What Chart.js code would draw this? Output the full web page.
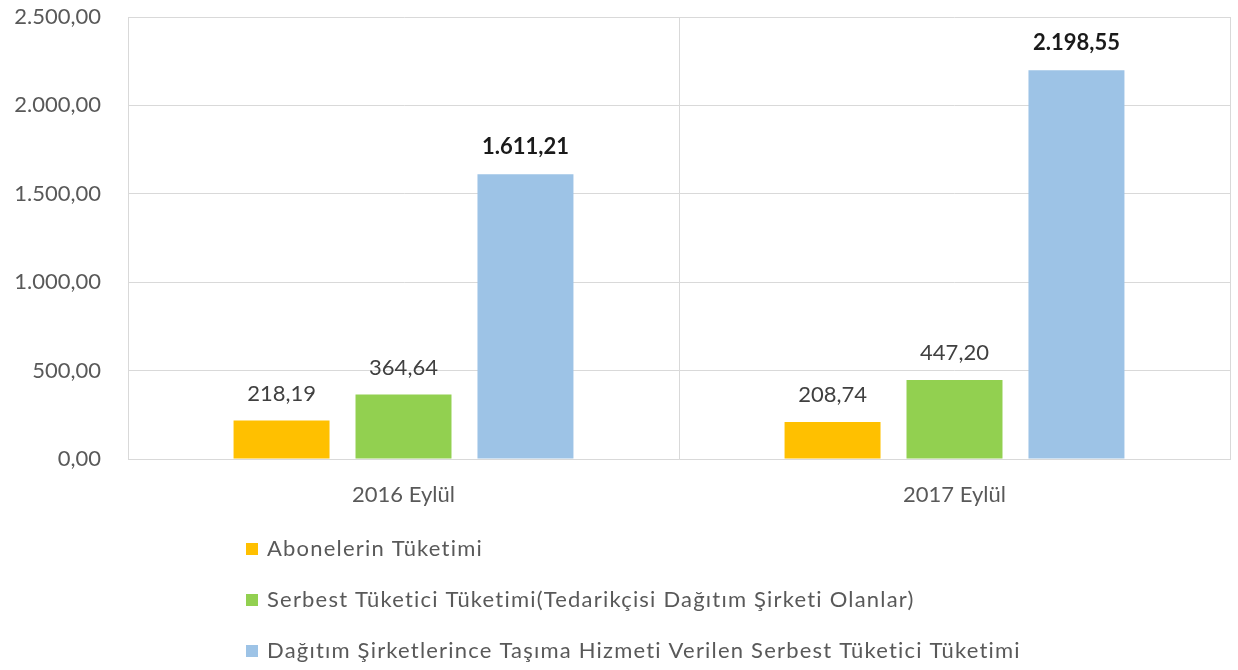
<!DOCTYPE html>
<html>
<head>
<meta charset="utf-8">
<script src="https://cdn.jsdelivr.net/npm/chart.js@4"></script>
<style>
  html, body { margin: 0; padding: 0; background: #fff; }
  .chart-wrap { width: 1238px; height: 670px; position: relative; }
</style>
</head>
<body>
<div class="chart-wrap"><canvas id="chart"></canvas></div>
<script>
const categories = ['2016 Eylül', '2017 Eylül'];
const aboneler = [218.19, 208.74];
const serbestTedarik = [364.64, 447.2];
const dagitimTasima = [1611.21, 2198.55];
const seriesNames = [
  'Abonelerin Tüketimi',
  'Serbest Tüketici Tüketimi(Tedarikçisi Dağıtım Şirketi Olanlar)',
  'Dağıtım Şirketlerince Taşıma Hizmeti Verilen Serbest Tüketici Tüketimi',
];
const yTicks = [0, 500, 1000, 1500, 2000, 2500];

const FONT = 'Lato, "Open Sans", sans-serif';

// 1234.5 -> "1.234,50"
const fmt = (v) => {
  const [whole, dec] = v.toFixed(2).split('.');
  return whole.replace(/\B(?=(\d{3})+(?!\d))/g, '.') + ',' + dec;
};

const valueLabels = {
  id: 'valueLabels',
  afterDatasetsDraw(chart) {
    const { ctx } = chart;
    ctx.save();
    ctx.textAlign = 'center';
    ctx.textBaseline = 'middle';
    chart.data.datasets.forEach((ds, i) => {
      const bold = i === 2;
      ctx.font = (bold ? 'bold ' : '') + '22px ' + FONT;
      ctx.fillStyle = bold ? '#1a1a1a' : '#404040';
      chart.getDatasetMeta(i).data.forEach((bar, j) => {
        ctx.fillText(fmt(ds.data[j]), bar.x, bar.y - 27);
      });
    });
    ctx.restore();
  },
};

const stackedLegend = {
  id: 'stackedLegend',
  afterDraw(chart) {
    const { ctx } = chart;
    ctx.save();
    ctx.font = '22px ' + FONT;
    ctx.letterSpacing = '1.2px';
    ctx.textBaseline = 'middle';
    chart.data.datasets.forEach((ds, i) => {
      const y = 549 + i * 51;
      ctx.fillStyle = ds.backgroundColor;
      ctx.fillRect(246, y - 6, 12, 12);
      ctx.fillStyle = '#595959';
      ctx.fillText(ds.label, 267, y);
    });
    ctx.restore();
  },
};

new Chart(document.getElementById('chart'), {
  type: 'bar',
  data: {
    labels: categories,
    datasets: [
      { label: seriesNames[0], data: aboneler, backgroundColor: '#FFC000' },
      { label: seriesNames[1], data: serbestTedarik, backgroundColor: '#92D050' },
      { label: seriesNames[2], data: dagitimTasima, backgroundColor: '#9DC3E6' },
    ],
  },
  options: {
    responsive: true,
    maintainAspectRatio: false,
    animation: false,
    layout: { padding: { top: 17, right: 8, left: 0, bottom: 0 } },
    datasets: {
      bar: { categoryPercentage: 0.664, barPercentage: 0.787 },
    },
    plugins: {
      legend: { display: false },
      tooltip: { enabled: false },
    },
    scales: {
      x: {
        grid: { color: '#d9d9d9', drawTicks: false, offset: true },
        border: { color: '#d9d9d9' },
        ticks: { color: '#595959', font: { family: FONT, size: 22 }, padding: 23 },
        afterFit: (scale) => { scale.height = 211; },
      },
      y: {
        min: 0,
        max: 2500,
        afterBuildTicks: (scale) => { scale.ticks = yTicks.map((v) => ({ value: v })); },
        grid: { color: '#d9d9d9', drawTicks: false },
        border: { color: '#d9d9d9' },
        ticks: {
          color: '#595959',
          font: { family: FONT, size: 22 },
          padding: 27,
          callback: (v) => fmt(v),
        },
        afterFit: (scale) => {
          scale.width = 128;
          scale.paddingTop = 0;
          scale.paddingBottom = 0;
        },
      },
    },
  },
  plugins: [valueLabels, stackedLegend],
});
</script>
</body>
</html>
